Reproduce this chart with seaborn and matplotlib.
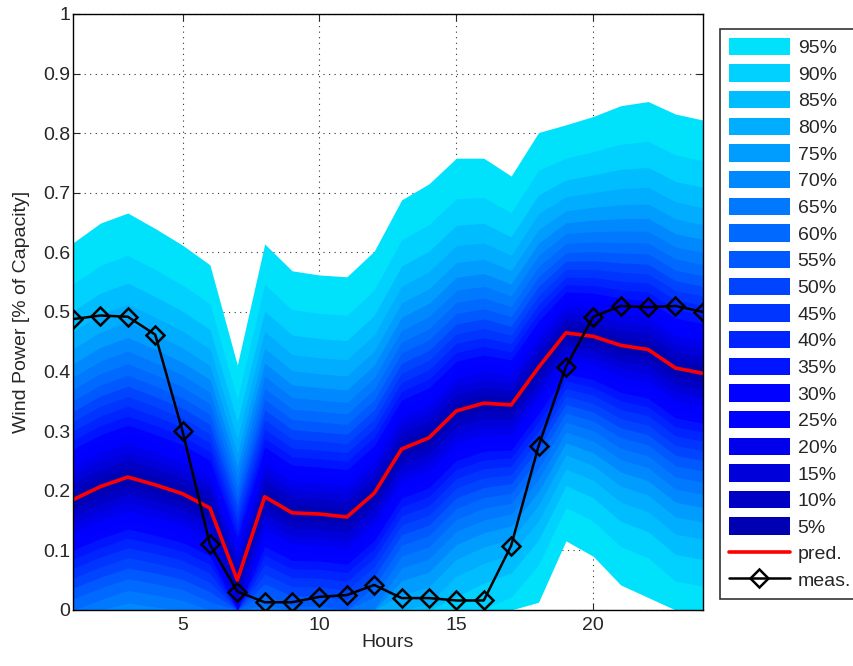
import numpy as np
import pandas as pd
import matplotlib
matplotlib.use('Agg')
import matplotlib.pyplot as plt
from matplotlib.patches import Patch
from matplotlib.lines import Line2D
import seaborn as sns

# Данные
hours = list(range(1, 25))
pred = [0.185, 0.207, 0.223, 0.210, 0.195, 0.171, 0.050, 0.190, 0.163, 0.161, 0.156, 0.196,
        0.270, 0.289, 0.334, 0.347, 0.344, 0.407, 0.465, 0.459, 0.444, 0.437, 0.406, 0.397]
upper95 = [0.616, 0.649, 0.666, 0.640, 0.612, 0.579, 0.411, 0.614, 0.569, 0.562, 0.559, 0.602,
           0.688, 0.715, 0.758, 0.758, 0.728, 0.801, 0.814, 0.828, 0.846, 0.853, 0.832, 0.822]
meas = [0.488, 0.494, 0.492, 0.462, 0.300, 0.110, 0.031, 0.013, 0.013, 0.022, 0.025, 0.042,
        0.020, 0.020, 0.016, 0.016, 0.108, 0.275, 0.408, 0.492, 0.510, 0.508, 0.510, 0.500]

# уровни интервалов и соответствующие квантили нормального распределения
levels = [5, 10, 15, 20, 25, 30, 35, 40, 45, 50, 55, 60, 65, 70, 75, 80, 85, 90, 95]
zvals = [0.0627, 0.1257, 0.1891, 0.2533, 0.3186, 0.3853, 0.4538, 0.5244, 0.5978, 0.6745,
         0.7554, 0.8416, 0.9346, 1.0364, 1.1503, 1.2816, 1.4395, 1.6449, 1.9600]

df = pd.DataFrame({'hour': hours, 'pred': pred, 'up': upper95, 'meas': meas})
df['sigma'] = (df['up'] - df['pred']) / 1.96

sns.set_style('ticks')
plt.rcParams['font.family'] = ['Liberation Sans', 'DejaVu Sans']

fig = plt.figure(figsize=(8.54, 6.66), dpi=100)
ax = fig.add_axes([0.0855, 0.0841, 0.7375, 0.895])

cmap = matplotlib.colormaps['jet']
colors = [cmap(t) for t in np.linspace(0.045, 0.345, len(levels))]

# сначала самый широкий интервал, потом уже
handles = []
for i in range(len(levels) - 1, -1, -1):
    lo = np.clip(df['pred'] - zvals[i] * df['sigma'], 0, None)
    hi = df['pred'] + zvals[i] * df['sigma']
    ax.fill_between(df['hour'], lo, hi, color=colors[i], linewidth=0, zorder=2)
    handles.append(Patch(facecolor=colors[i], edgecolor='none', label=f'{levels[i]}%'))

sns.lineplot(data=df, x='hour', y='pred', ax=ax, color='#ff0000', linewidth=2.6, zorder=4)
sns.lineplot(data=df, x='hour', y='meas', ax=ax, color='black', linewidth=1.8, marker='D',
             markersize=9, markerfacecolor='none', markeredgecolor='black',
             markeredgewidth=1.8, zorder=5)

handles.append(Line2D([], [], color='#ff0000', linewidth=2.6, label='pred.'))
handles.append(Line2D([], [], color='black', linewidth=1.8, marker='D', markersize=9,
                      markerfacecolor='none', markeredgewidth=1.8, label='meas.'))

ax.set_xlim(1, 24)
ax.set_ylim(0, 1)
ax.set_xticks([5, 10, 15, 20])
ax.set_yticks(np.arange(0, 1.01, 0.1))
ax.set_yticklabels(['0', '0.1', '0.2', '0.3', '0.4', '0.5', '0.6', '0.7', '0.8', '0.9', '1'])
ax.grid(True, linestyle=(0, (1, 4)), color='#333333', linewidth=0.8, zorder=1)
ax.set_axisbelow(True)
ax.tick_params(direction='in', top=True, right=True, length=5, labelsize=14, width=0.8)
ax.tick_params(axis='y', pad=2)
ax.tick_params(axis='x', pad=5)
for s in ax.spines.values():
    s.set_visible(True)
    s.set_color('black')
    s.set_linewidth(1.0)
    s.set_zorder(6)

ax.set_xlabel('Hours', fontsize=14, labelpad=0)
ax.set_ylabel('Wind Power [% of Capacity]', fontsize=14, labelpad=9)

leg = ax.legend(handles=handles, loc='upper left', bbox_to_anchor=(0.843, 0.9565),
                bbox_transform=fig.transFigure, fontsize=14, frameon=True, fancybox=False,
                handlelength=3.15, handleheight=1.0, labelspacing=0.375, borderpad=0.45,
                handletextpad=0.4, borderaxespad=0)
leg.get_frame().set_edgecolor('black')
leg.get_frame().set_linewidth(1.2)

fig.savefig('out.png', dpi=100)
